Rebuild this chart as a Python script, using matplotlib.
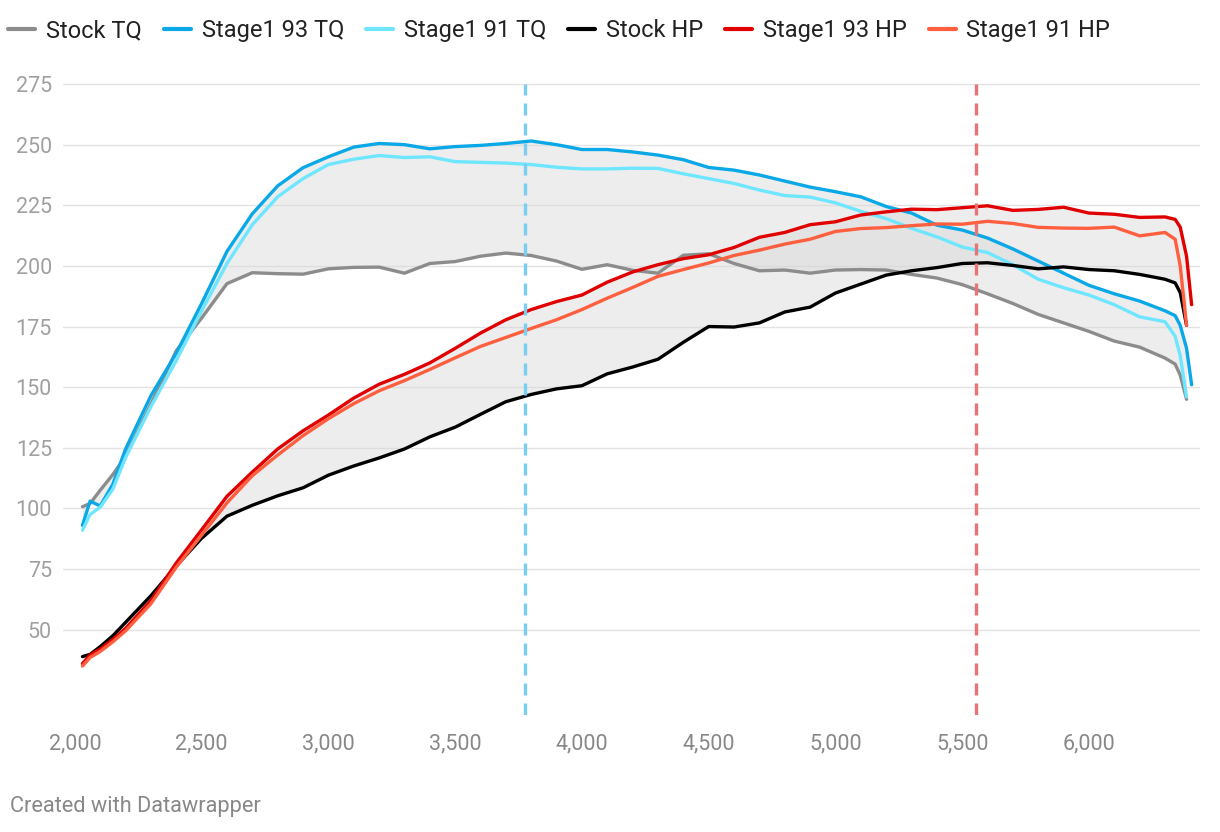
import numpy as np
import matplotlib.pyplot as plt
from matplotlib.lines import Line2D

plt.rcParams['font.family'] = ['Roboto', 'DejaVu Sans']

rpm = [2030, 2060, 2100, 2150, 2200, 2300, 2400, 2500, 2600, 2700, 2800, 2900,
       3000, 3100, 3200, 3300, 3400, 3500, 3600, 3700, 3800, 3900,
       4000, 4100, 4200, 4300, 4400, 4500, 4600, 4700, 4800, 4900,
       5000, 5100, 5200, 5300, 5400, 5500, 5600, 5700, 5800, 5900,
       6000, 6100, 6200, 6300, 6340, 6360, 6385, 6405]

stock_tq = [100.7, 102, 107.5, 114, 121.5, 143, 165, 178.5, 192.7, 197.2, 196.8, 196.6,
            198.8, 199.4, 199.5, 197, 201, 201.8, 204, 205.3, 204.3, 202,
            198.6, 200.5, 198.2, 197, 204.4, 205, 201, 198, 198.3, 197,
            198.3, 198.5, 198.3, 196.5, 195, 192.3, 188.5, 184.5, 180, 176.5,
            173, 169, 166.5, 162, 159.5, 155, 145, np.nan]
s93_tq = [93, 103, 101, 110, 124.5, 146.5, 164, 184.5, 206, 221.5, 233, 240.5,
          245, 249, 250.5, 250, 248.3, 249.2, 249.7, 250.5, 251.5, 250,
          248, 248, 247, 245.7, 243.8, 240.6, 239.5, 237.5, 235, 232.5,
          230.6, 228.5, 224.5, 221.8, 216.8, 214.8, 211.5, 207, 202, 197,
          192, 188.5, 185.5, 181.5, 179.5, 175.5, 166, 151]
s91_tq = [91, 97.5, 100.5, 108, 121, 142, 161, 181.5, 201, 217, 228.5, 236,
          241.8, 244, 245.5, 244.7, 245, 243, 242.7, 242.4, 241.8, 240.7,
          240, 240, 240.3, 240.2, 238, 236, 234, 231.3, 229, 228.4,
          226, 222.5, 219.5, 215.5, 212, 207.8, 205.5, 200.5, 194.5, 191,
          188, 184, 179, 177, 171, 163, 146, np.nan]
stock_hp = [38.9, 39.8, 43, 47.5, 53, 64, 76.3, 87.7, 96.8, 101.3, 105.2, 108.5,
            113.7, 117.5, 120.8, 124.5, 129.5, 133.5, 138.8, 144, 147, 149.3,
            150.6, 155.5, 158.3, 161.5, 168.5, 175, 174.8, 176.5, 181, 183,
            188.8, 192.5, 196.2, 198, 199.3, 201, 201.3, 200.2, 198.8, 199.6,
            198.5, 198, 196.5, 194.5, 193, 189, 175.5, np.nan]
s93_hp = [36, 39.6, 42, 46, 50.5, 62, 77.5, 91.2, 105, 115, 124.5, 132,
          138.5, 145.5, 151.2, 155.3, 160, 166, 172.3, 177.8, 182, 185.3,
          188, 193.3, 197.5, 200.5, 203, 204.6, 207.6, 211.8, 213.8, 217,
          218.2, 221, 222.3, 223.4, 223.2, 224, 224.8, 222.9, 223.3, 224.2,
          221.8, 221.3, 220, 220.2, 219.2, 216, 204, 184]
s91_hp = [35, 38.5, 41, 45, 49.5, 60.7, 75.8, 89, 102.3, 113.5, 122, 130,
          137, 143.2, 148.5, 152.7, 157.3, 162.1, 166.8, 170.5, 174.2, 177.8,
          182, 186.7, 191.1, 195.7, 198.5, 201.2, 204.3, 206.5, 209, 211,
          214.2, 215.4, 215.8, 216.6, 217.3, 217.2, 218.4, 217.5, 215.9, 215.6,
          215.5, 216, 212.4, 213.8, 211, 200, 175.5, np.nan]

series_names = ['Stock TQ', 'Stage1 93 TQ', 'Stage1 91 TQ', 'Stock HP', 'Stage1 93 HP', 'Stage1 91 HP']
series_colors = ['#8c8c8c', '#0aa8e6', '#6fe6ff', '#000000', '#e00000', '#ff5f3f']
markers_rpm = [3775, 5555]
marker_colors = ['#78cff0', '#e87474']
y_ticks = [50, 75, 100, 125, 150, 175, 200, 225, 250, 275]
x_ticks = [2000, 2500, 3000, 3500, 4000, 4500, 5000, 5500, 6000]

fig = plt.figure(figsize=(12.2, 8.32), dpi=100)
ax = fig.add_axes([0.0516, 0.1406, 0.932, 0.7613])

x = np.array(rpm)
# shaded gain bands (stock vs stage1 93)
ax.fill_between(x, stock_tq, s93_tq, color='#d6d6d6', alpha=0.42, lw=0, zorder=1)
ax.fill_between(x, stock_hp, s93_hp, color='#d6d6d6', alpha=0.42, lw=0, zorder=1)

data = [stock_tq, s93_tq, s91_tq, stock_hp, s93_hp, s91_hp]
for vals, name, col in zip(data, series_names, series_colors):
    ax.plot(x, vals, color=col, lw=2.4, solid_capstyle='round', solid_joinstyle='round', zorder=3)

for r, c in zip(markers_rpm, marker_colors):
    ax.vlines(r, 15, 275, colors=c, lw=2.4, linestyles=(0, (3.6, 2.4)), zorder=4)

for t in y_ticks:
    ax.axhline(t, color='#e3e3e3', lw=1.0, zorder=0)

ax.set_xlim(1953, 6438)
ax.set_ylim(14.8, 276)
ax.set_yticks(y_ticks)
ax.set_xticks(x_ticks)
ax.set_xticklabels([f'{t:,}' for t in x_ticks])
ax.tick_params(axis='y', length=0, pad=8, labelsize=15.5, labelcolor='#a0a0a0')
ax.tick_params(axis='x', length=0, pad=13, labelsize=15.5, labelcolor='#888888')
for s in ax.spines.values():
    s.set_visible(False)

handles = [Line2D([], [], color=c, lw=3, solid_capstyle='round') for c in series_colors]
fig.legend(handles, series_names, loc='upper left', bbox_to_anchor=(0.0068, 0.977),
           ncol=6, frameon=False, fontsize=17, handlelength=1.15, handletextpad=0.45,
           columnspacing=0.93, borderpad=0, borderaxespad=0, labelcolor='#222222')

fig.text(0.008, 0.031, 'Created with Datawrapper', fontsize=15.7, color='#888888', va='center')

fig.savefig('out.png', dpi=100)
